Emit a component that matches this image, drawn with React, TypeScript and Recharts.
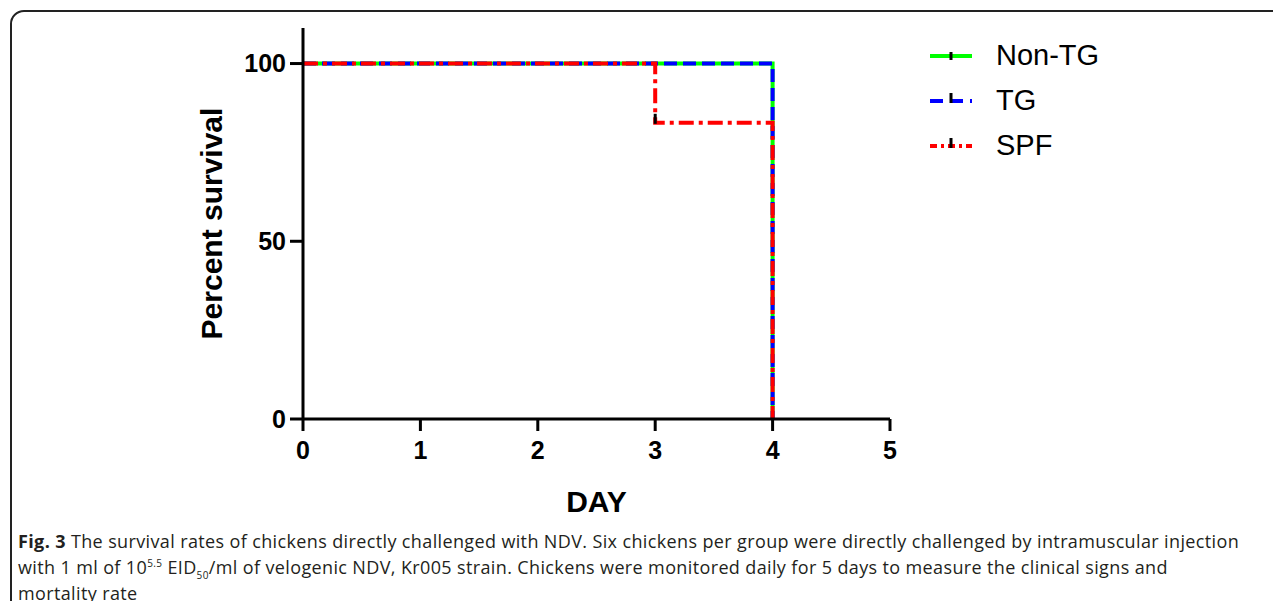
import React from 'react';
import { LineChart, Line, XAxis, YAxis } from 'recharts';

const dayTicks = [0, 1, 2, 3, 4, 5];
const survivalTicks = [0, 50, 100];

const nonTgDays = [0, 4];
const nonTgSurvival = [100, 0];
const tgDays = [0, 4];
const tgSurvival = [100, 0];
const spfDays = [0, 3, 4];
const spfSurvival = [100, 83.33, 0];
const spfCensorDays = [3];

const seriesNames = ['Non-TG', 'TG', 'SPF'];
const seriesColors = ['#00ff00', '#0000ff', '#ff0000'];
const seriesDash = ['0', '13 6', '15 5 4 5'];

const build = (days: number[], vals: number[]) => days.map((d, i) => ({ day: d, survival: vals[i] }));
const nonTgData = build(nonTgDays, nonTgSurvival);
const tgData = build(tgDays, tgSurvival);
const spfData = build(spfDays, spfSurvival);

const FONT = '"Liberation Sans", Arial, Helvetica, sans-serif';

const LegendBlock = () => (
  <div style={{ fontFamily: FONT }}>
    {seriesNames.map((name, i) => (
      <div key={name} style={{ display: 'flex', alignItems: 'center', height: 45 }}>
        <svg width={46} height={20} style={{ overflow: 'visible' }}>
          <line x1={2} y1={10} x2={44} y2={10} stroke={seriesColors[i]} strokeWidth={4}
            strokeDasharray={i === 0 ? undefined : (i === 1 ? '13 7' : '7 4 3 4')} />
          <line x1={23} y1={i === 0 ? 6 : 2} x2={23} y2={i === 0 ? 14 : 12} stroke="#000" strokeWidth={3} />
        </svg>
        <span style={{ marginLeft: 22, fontSize: 29, color: '#000', lineHeight: '45px' }}>{name}</span>
      </div>
    ))}
  </div>
);

const CensorDot = (props: any) => {
  const { cx, cy, payload, index } = props;
  if (!spfCensorDays.includes(payload.day)) return <g key={`d${index}`} />;
  return <line key={`d${index}`} x1={cx} y1={cy - 9} x2={cx} y2={cy + 1} stroke="#000" strokeWidth={3} />;
};

const YLabel = (props: any) => {
  const { viewBox } = props;
  const x = viewBox.x + 39;
  const y = viewBox.y + viewBox.height / 2;
  return (
    <text x={x} y={y} transform={`rotate(-90, ${x}, ${y})`} textAnchor="middle"
      style={{ fontFamily: FONT, fontWeight: 700, fontSize: 30, fill: '#000' }}>
      Percent survival
    </text>
  );
};

const XLabel = (props: any) => {
  const { viewBox } = props;
  const x = viewBox.x + viewBox.width / 2;
  const y = viewBox.y + viewBox.height + 53;
  return (
    <text x={x} y={y} textAnchor="middle" style={{ fontFamily: FONT, fontWeight: 700, fontSize: 30, fill: '#000' }}>
      DAY
    </text>
  );
};

export default function App() {
  const tickStyle = { fontFamily: FONT, fontWeight: 700, fontSize: 25, fill: '#000' };
  return (
    <div style={{ position: 'relative', width: 1281, height: 609, margin: -8, overflow: 'hidden', background: '#fff' }}>
      <div style={{ position: 'absolute', left: 10, top: 10, width: 1320, height: 700, border: '2px solid #222', borderRadius: 14, boxSizing: 'border-box' }} />
      <div style={{ position: 'absolute', left: 0, top: 0 }}>
        <LineChart width={1281} height={609} margin={{ top: 28, right: 391, bottom: 150, left: 183 }}>
          <XAxis type="number" dataKey="day" domain={[0, 5]} ticks={dayTicks} allowDuplicatedCategory={false}
            height={40} tickSize={12} tickMargin={10} tick={tickStyle}
            axisLine={{ stroke: '#000', strokeWidth: 3 }} tickLine={{ stroke: '#000', strokeWidth: 3 }}
            label={<XLabel />} />
          <YAxis type="number" domain={[0, 110]} ticks={survivalTicks} width={120} tickSize={13} tickMargin={4}
            tick={tickStyle} axisLine={{ stroke: '#000', strokeWidth: 3 }} tickLine={{ stroke: '#000', strokeWidth: 3 }}
            label={<YLabel />} />
          <Line data={nonTgData} dataKey="survival" name={seriesNames[0]} type="stepAfter" stroke={seriesColors[0]}
            strokeWidth={4} dot={false} isAnimationActive={false} />
          <Line data={tgData} dataKey="survival" name={seriesNames[1]} type="stepAfter" stroke={seriesColors[1]}
            strokeWidth={4} strokeDasharray={seriesDash[1]} dot={false} isAnimationActive={false} />
          <Line data={spfData} dataKey="survival" name={seriesNames[2]} type="stepAfter" stroke={seriesColors[2]}
            strokeWidth={4} strokeDasharray={seriesDash[2]} dot={<CensorDot />} isAnimationActive={false} />
        </LineChart>
      </div>
      <div style={{ position: 'absolute', left: 928, top: 33 }}>
        <LegendBlock />
      </div>
      <div style={{ position: 'absolute', left: 18, top: 528, fontFamily: '"Open Sans", sans-serif', fontSize: 18, letterSpacing: 0.37, lineHeight: '26px', color: '#231f20', whiteSpace: 'nowrap' }}>
        <div><b>Fig. 3</b> The survival rates of chickens directly challenged with NDV. Six chickens per group were directly challenged by intramuscular injection</div>
        <div>with 1 ml of 10<sup style={{ fontSize: 10, lineHeight: 0 }}>5.5</sup> EID<sub style={{ fontSize: 10, lineHeight: 0 }}>50</sub>/ml of velogenic NDV, Kr005 strain. Chickens were monitored daily for 5 days to measure the clinical signs and</div>
        <div>mortality rate</div>
      </div>
    </div>
  );
}
